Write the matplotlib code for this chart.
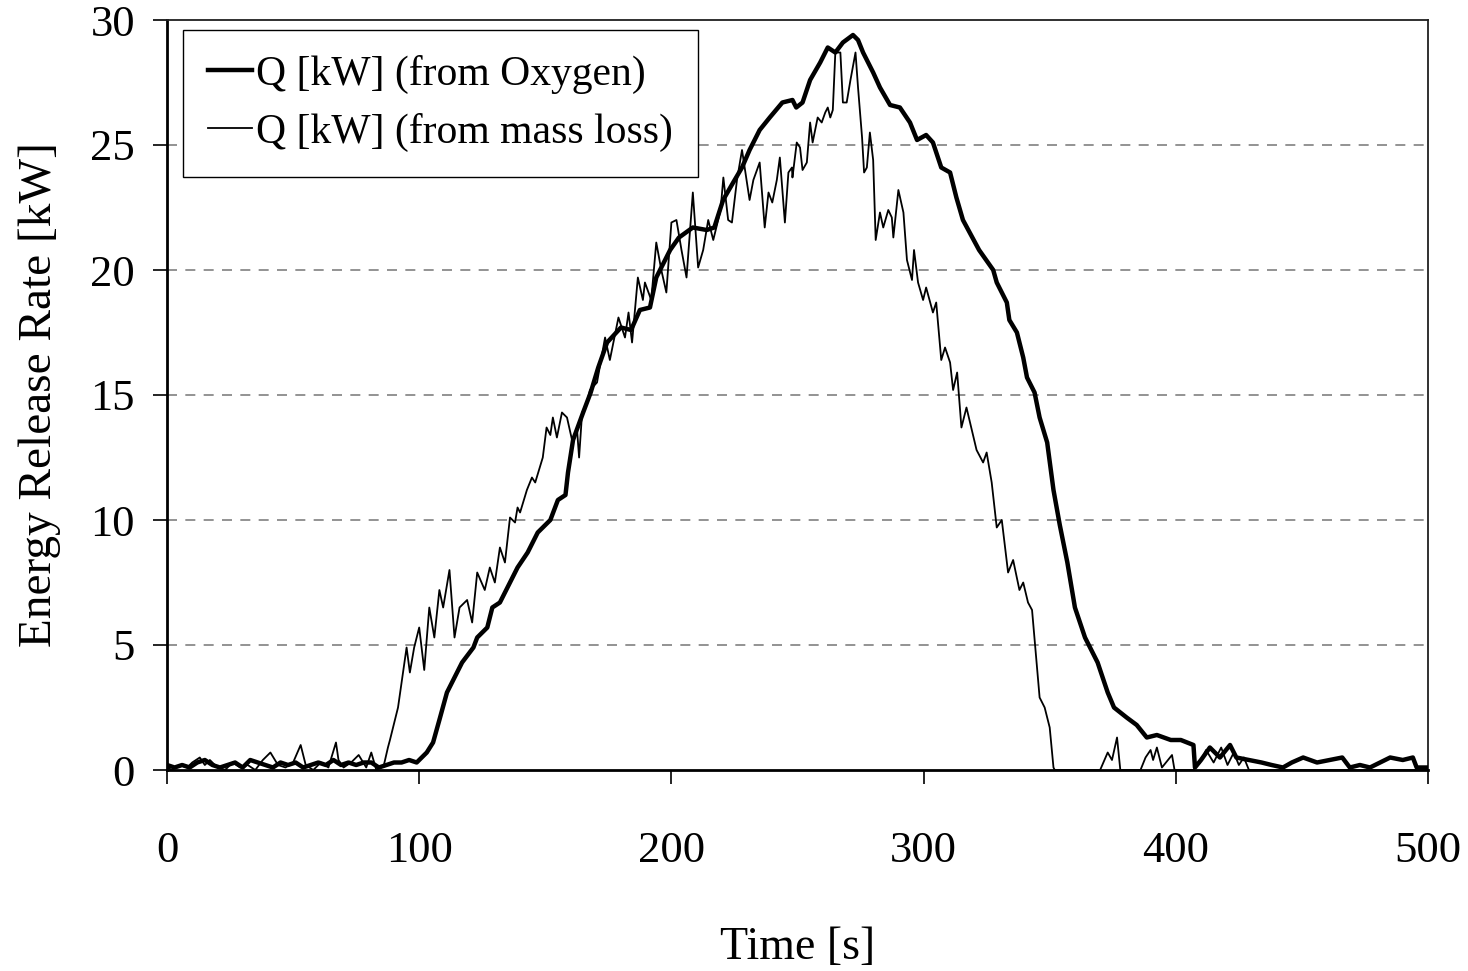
import matplotlib
matplotlib.use("Agg")
import matplotlib.pyplot as plt

# ---- data ----
t_oxygen = [0, 3, 6, 9, 12, 15, 18, 21, 24, 27, 30, 33, 36, 39, 42, 45, 48, 51, 54, 57,
            60, 63, 66, 69, 72, 75, 78, 81, 84, 87, 90, 93, 96, 99, 101, 103, 105.5, 108,
            111, 113.5, 117, 121.5, 123, 127, 129, 132, 135, 139, 143, 147, 152, 155, 158,
            159, 161, 165, 168, 171, 174.5, 180, 184, 187.5, 191.5, 194, 199.5, 203, 208.5,
            214, 217, 220.5, 224.5, 228, 231, 235, 239, 244, 248, 249.5, 252, 255, 259, 262,
            265, 268, 272, 274, 276, 280, 282.7, 286.7, 290.6, 294.6, 297.4, 301, 303.7,
            307, 310.5, 313, 315.6, 322, 327.6, 329, 333, 334, 337, 339.5, 341, 344, 346,
            349, 351.5, 354, 357, 360, 364, 369, 373, 375.5, 380.5, 384.5, 388.5, 392.5,
            398, 402, 407, 407.6, 410, 413.5, 417.5, 421.5, 424, 429, 434, 438, 442.5,
            446, 450.5, 456, 461, 466, 469, 473, 477, 481, 485, 490, 494, 495.5, 500]
q_oxygen = [0.2, 0.1, 0.2, 0.1, 0.3, 0.4, 0.2, 0.1, 0.2, 0.3, 0.1, 0.4, 0.3, 0.2, 0.1, 0.3,
            0.2, 0.3, 0.1, 0.2, 0.3, 0.2, 0.4, 0.2, 0.3, 0.2, 0.3, 0.3, 0.1, 0.2, 0.3, 0.3,
            0.4, 0.3, 0.5, 0.7, 1.1, 2.0, 3.1, 3.6, 4.3, 4.9, 5.3, 5.7, 6.5, 6.7, 7.3, 8.1,
            8.7, 9.5, 10.0, 10.8, 11.0, 11.9, 13.2, 14.3, 15.1, 16.1, 17.1, 17.7, 17.6,
            18.4, 18.5, 19.7, 20.8, 21.3, 21.7, 21.6, 21.7, 22.8, 23.5, 24.1, 24.8, 25.6,
            26.1, 26.7, 26.8, 26.5, 26.7, 27.6, 28.3, 28.9, 28.7, 29.1, 29.4, 29.2, 28.7,
            27.9, 27.3, 26.6, 26.5, 25.9, 25.2, 25.4, 25.1, 24.1, 23.9, 22.9, 22.0, 20.8,
            20.0, 19.5, 18.7, 18.0, 17.5, 16.5, 15.7, 15.1, 14.1, 13.1, 11.2, 9.8, 8.3,
            6.5, 5.3, 4.3, 3.1, 2.5, 2.1, 1.8, 1.3, 1.4, 1.2, 1.2, 1.0, 0.1, 0.4, 0.9,
            0.5, 1.0, 0.5, 0.4, 0.3, 0.2, 0.1, 0.3, 0.5, 0.3, 0.4, 0.5, 0.1, 0.2, 0.1,
            0.3, 0.5, 0.4, 0.5, 0.1, 0.1]

t_mass = [0, 2, 5, 8, 10, 13, 15, 17, 20, 23, 26, 29, 32, 35, 38, 41, 44, 47, 50, 53, 55,
          58, 61, 64, 67, 68, 70, 73, 76, 79, 81, 83, 86, 87.6, 88.4, 91.6, 93.6, 95, 96.3,
          98, 100, 102, 104, 106, 108, 109.5, 112, 114, 116, 119, 121, 123, 126, 128, 130,
          132, 134, 136, 138, 139, 140, 142.7, 144.7, 146, 149, 150.5, 152, 153, 154.6,
          156.6, 158.6, 160.6, 162.6, 163.4, 164.6, 166.5, 167.7, 170.5, 173.7, 175.6,
          179, 181.6, 183, 184.4, 186.7, 188.7, 189.5, 192, 194, 196, 198, 200, 202, 204,
          206, 208.5, 210.6, 212.6, 214.6, 216.6, 219.5, 220.6, 222.5, 224, 226, 228, 231,
          232.5, 235, 237, 238.5, 240, 241.8, 243, 245, 246.4, 247.8, 248, 249.7, 251, 252,
          253.7, 255, 256, 258, 259.6, 261, 262, 263, 264, 265, 267, 268, 269.5, 271, 273,
          274, 275.6, 276.4, 277.5, 278.7, 280, 281, 282.7, 284, 286, 287.4, 288, 290, 292,
          293.4, 295.4, 296.2, 297.8, 299.8, 301, 303.7, 305, 307, 308.5, 310.5, 311.7,
          313.3, 315, 317, 318.4, 321, 323.6, 325, 327, 329, 331, 333.5, 335.5, 338, 339.5,
          341.4, 343, 346, 348, 350, 351.5, 352, 370, 373, 374.7, 376.7, 378, 386, 388, 390,
          391, 392.5, 394.5, 398.5, 399.5, 407, 409.6, 412, 415, 418, 420.5, 423, 425, 427,
          429, 500]
q_mass = [0.1, 0.0, 0.2, 0.1, 0.3, 0.5, 0.2, 0.4, 0.1, 0.0, 0.3, 0.1, 0.2, 0.0, 0.4, 0.7,
          0.2, 0.1, 0.3, 1.0, 0.2, 0.0, 0.3, 0.1, 1.1, 0.4, 0.1, 0.3, 0.6, 0.1, 0.7, 0.0,
          0.2, 0.9, 1.2, 2.5, 3.9, 4.9, 3.9, 4.9, 5.7, 4.0, 6.5, 5.3, 7.2, 6.5, 8.0, 5.3,
          6.5, 6.8, 5.9, 7.9, 7.2, 8.1, 7.5, 8.9, 8.3, 10.1, 9.9, 10.5, 10.3, 11.2, 11.7,
          11.5, 12.5, 13.7, 13.4, 14.1, 13.3, 14.3, 14.1, 13.2, 13.6, 12.5, 14.3, 14.7,
          15.2, 15.5, 17.3, 16.4, 18.1, 17.3, 18.3, 17.1, 19.7, 18.8, 19.5, 18.8, 21.1,
          20.0, 19.1, 21.9, 22.0, 20.8, 19.7, 23.1, 20.1, 20.8, 22.0, 21.2, 22.4, 23.7,
          22.0, 21.9, 23.6, 24.8, 22.8, 23.6, 24.3, 21.7, 23.1, 22.7, 23.6, 24.5, 21.9,
          23.9, 24.1, 23.7, 25.1, 24.9, 24.0, 24.3, 25.9, 25.1, 26.1, 25.9, 26.3, 26.5,
          26.1, 26.4, 28.7, 28.7, 26.7, 26.7, 27.6, 28.7, 27.3, 25.3, 23.9, 24.1, 25.5,
          24.4, 21.2, 22.3, 21.7, 22.4, 22.1, 21.3, 23.2, 22.3, 20.4, 19.6, 20.8, 19.5,
          18.8, 19.3, 18.3, 18.7, 16.4, 16.9, 16.3, 15.2, 15.9, 13.7, 14.5, 13.9, 12.8,
          12.3, 12.7, 11.5, 9.7, 10.0, 7.9, 8.4, 7.2, 7.5, 6.7, 6.4, 2.9, 2.5, 1.7, 0.1,
          0.0, 0.0, 0.7, 0.4, 1.3, 0.0, 0.0, 0.5, 0.8, 0.4, 0.9, 0.1, 0.6, 0.0, 0.0, 0.3,
          0.8, 0.3, 0.9, 0.2, 0.7, 0.2, 0.5, 0.0, 0.0]

label_oxygen = "Q [kW] (from Oxygen)"
label_mass = "Q [kW] (from mass loss)"
x_ticks = [0, 100, 200, 300, 400, 500]
y_ticks = [0, 5, 10, 15, 20, 25, 30]

plt.rcParams['font.family'] = ['Liberation Serif', 'DejaVu Serif']

fig = plt.figure(figsize=(14.68, 9.71), dpi=100)
ax = fig.add_axes([167 / 1468, 1 - 770 / 971, (1428 - 167) / 1468, (770 - 20) / 971])

for yv in y_ticks[1:-1]:
    ax.axhline(yv, color='#808080', lw=1.2, ls=(0, (6, 5)), zorder=0)

ax.plot(t_oxygen, q_oxygen, color='black', lw=3.2, label=label_oxygen, zorder=3)
ax.plot(t_mass, q_mass, color='black', lw=1.3, label=label_mass, zorder=2)

ax.set_xlim(0, 500)
ax.set_ylim(0, 30)
ax.set_xticks(x_ticks)
ax.set_yticks(y_ticks)
ax.tick_params(axis='both', labelsize=32, direction='out', length=10, width=1.2)
ax.tick_params(axis='x', pad=34)
ax.tick_params(axis='y', pad=13)

for side in ['top', 'right']:
    ax.spines[side].set_linewidth(1.3)
    ax.spines[side].set_color('#202020')
for side in ['left', 'bottom']:
    ax.spines[side].set_linewidth(2.0)
    ax.spines[side].set_color('black')

ax.set_xlabel("Time [s]", fontsize=33, labelpad=40)
ax.set_ylabel("Energy Release Rate [kW]", fontsize=34, labelpad=21)

leg = ax.legend(loc='upper left', bbox_to_anchor=(16 / 1261, 1 - 10 / 750), fontsize=30,
                frameon=True, fancybox=False, edgecolor='black', framealpha=1,
                handlelength=1.05, handletextpad=0.1, borderpad=0.6, labelspacing=0.45,
                borderaxespad=0)
leg.get_frame().set_linewidth(1.0)

fig.savefig("out.png", dpi=100)
